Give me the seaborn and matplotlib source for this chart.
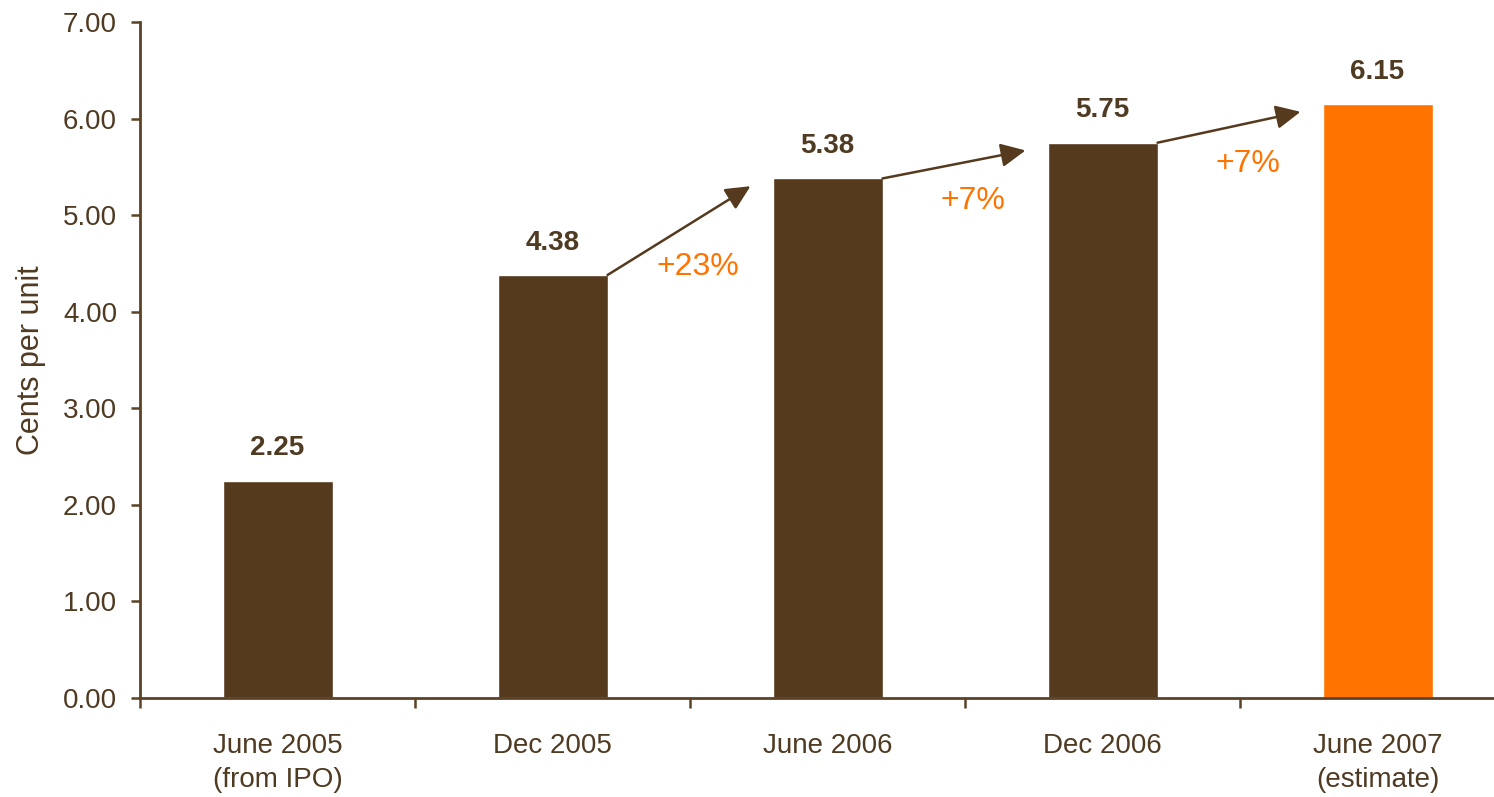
import matplotlib
matplotlib.use("Agg")
import matplotlib.pyplot as plt
import seaborn as sns
import pandas as pd

# Distribution per unit, by half-year
periods = ["June 2005\n(from IPO)", "Dec 2005", "June 2006", "Dec 2006", "June 2007\n(estimate)"]
cents = [2.25, 4.38, 5.38, 5.75, 6.15]
growth_labels = ["+23%", "+7%", "+7%"]   # growth between consecutive bars, from Dec 2005 on
y_ticks = [0, 1, 2, 3, 4, 5, 6, 7]

BROWN = "#553A1E"
ORANGE = "#FF7300"
AXIS = "#5B4327"
TEXT = "#4F3A22"

sns.set_style("white")
plt.rcParams["font.family"] = ["Liberation Sans", "DejaVu Sans"]

fig = plt.figure(figsize=(14.94, 7.97), dpi=100)
ax = fig.add_axes([140 / 1494, 99 / 797, 1375 / 1494, 676 / 797])

df = pd.DataFrame({"period": periods, "cents": cents})
bar_colors = [BROWN, BROWN, BROWN, BROWN, ORANGE]
sns.barplot(data=df, x="period", y="cents", hue="period", palette=bar_colors,
            legend=False, width=0.4, saturation=1, ax=ax)

ax.set_xlim(-0.5, len(periods) - 0.5)
ax.set_ylim(0, 7)
ax.set_yticks(y_ticks)
ax.set_yticklabels([f"{t:.2f}" for t in y_ticks])
ax.set_xlabel("")
ax.set_ylabel("Cents per unit", fontsize=22, color=TEXT, labelpad=12)

# spines
for side in ["top", "right"]:
    ax.spines[side].set_visible(False)
for side in ["left", "bottom"]:
    ax.spines[side].set_color(AXIS)
    ax.spines[side].set_linewidth(2)

ax.tick_params(axis="y", which="major", direction="out", length=6.5, width=1.8,
               color=AXIS, labelsize=20, labelcolor=TEXT, pad=10, left=True)
# category labels centred on bars, tick marks on the category boundaries
ax.tick_params(axis="x", which="major", length=0, labelsize=20, labelcolor=TEXT, pad=25)
ax.set_xticks([i - 0.5 for i in range(len(periods))], minor=True)
ax.tick_params(axis="x", which="minor", direction="out", length=7.5, width=1.8,
               color=AXIS, bottom=True)
for lbl in ax.get_xticklabels():
    lbl.set_linespacing(1.4)

# value labels above bars
for i, v in enumerate(cents):
    ax.annotate(f"{v:.2f}", (i, v), xytext=(0, 14), textcoords="offset points",
                ha="center", va="bottom", fontsize=20, fontweight="bold", color=TEXT)

# growth arrows and percentages
half = 0.2
for k, lab in enumerate(growth_labels):
    i = k + 1
    start = (i + half, cents[i])
    end = (i + 1 - 0.28, cents[i + 1] - 0.08)
    ax.annotate("", xy=end, xytext=start,
                arrowprops=dict(arrowstyle="-|>,head_length=0.5,head_width=0.24",
                                color=BROWN, lw=1.8,
                                mutation_scale=30, shrinkA=0, shrinkB=0))
    ax.text(i + 0.53, (cents[i] + cents[i + 1]) / 2 - 0.42, lab,
            ha="center", va="center", fontsize=23, color=ORANGE)

fig.savefig("out.png", dpi=100, facecolor="white")
